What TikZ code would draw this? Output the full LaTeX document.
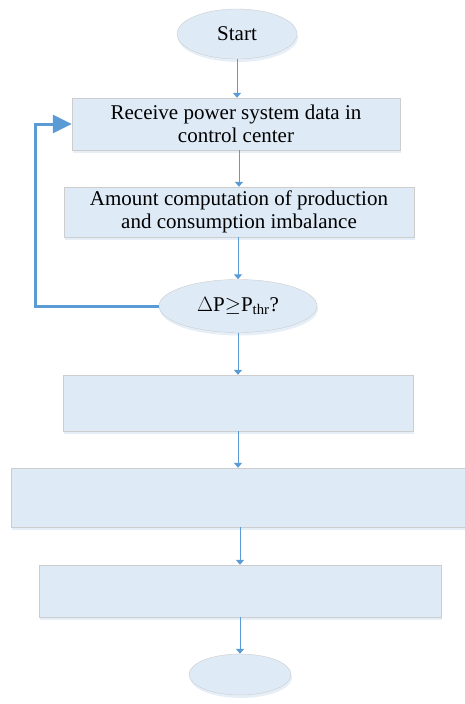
\documentclass[tikz,border=0pt]{standalone}
\usepackage{fontspec}
\setmainfont{Liberation Serif}
\usepackage{tikz}
\usetikzlibrary{shapes.geometric,arrows.meta,shadows}
\definecolor{flowFill}{RGB}{222,234,246}
\definecolor{flowLine}{RGB}{91,155,213}
\definecolor{flowEdge}{RGB}{205,205,205}
\definecolor{flowShadow}{RGB}{214,229,244}

\begin{document}
\begin{tikzpicture}[x=1pt,y=-1pt,>={Triangle[width=8pt,length=5pt]},semithick,
    font=\fontsize{21}{23}\selectfont]
  \tikzstyle{base}=[fill=flowFill,draw=flowEdge,thin,
    drop shadow={fill=flowShadow,opacity=0.6,shadow xshift=1pt,shadow yshift=-3pt}]
  \tikzstyle{term}=[base,ellipse,inner sep=0pt]
  \tikzstyle{proc}=[base,rectangle,inner sep=0pt,align=center]
  \tikzstyle{flow}=[->,draw=flowLine,line width=1pt]
  \tikzstyle{loop}=[-{Triangle[width=18pt,length=19pt]},draw=flowLine,line width=3pt]

  \useasboundingbox (0,0) rectangle (465,704);

  \node[term,minimum width=120pt,minimum height=50pt] (start) at (237,34) {Start};
  \node[proc,minimum width=328pt,minimum height=52pt] (recv) at (236,124)
    {Receive power system data in\\control center};
  \node[proc,minimum width=350pt,minimum height=50pt] (imb) at (239,212)
    {Amount computation of production\\and consumption imbalance};
  \node[term,minimum width=158pt,minimum height=53pt] (check) at (238,306)
    {$\Delta$P$\geq$P\textsubscript{thr}?};
  \node[proc,minimum width=350pt,minimum height=56pt] (stepA) at (238,403) {};
  \node[proc,minimum width=454pt,minimum height=59pt] (stepB) at (238,497.5) {};
  \node[proc,minimum width=402pt,minimum height=52pt] (stepC) at (240,591) {};
  \node[term,minimum width=102pt,minimum height=41pt] (stop) at (240,674.5) {};

  \coordinate (back) at (35,306);

  \draw[flow] (start) -- (start |- recv.north);
  \draw[flow] (recv.south -| imb) -- (imb);
  \draw[flow] (imb.south -| check) -- (check);
  \draw[flow] (check) -- (check |- stepA.north);
  \draw[flow] (stepA.south -| stepB) -- (stepB);
  \draw[flow] (stepB.south -| stepC) -- (stepC);
  \draw[flow] (stepC) -- (stop);
  \draw[loop] (check.west) -- (back) |- (recv.west);
\end{tikzpicture}
\end{document}
